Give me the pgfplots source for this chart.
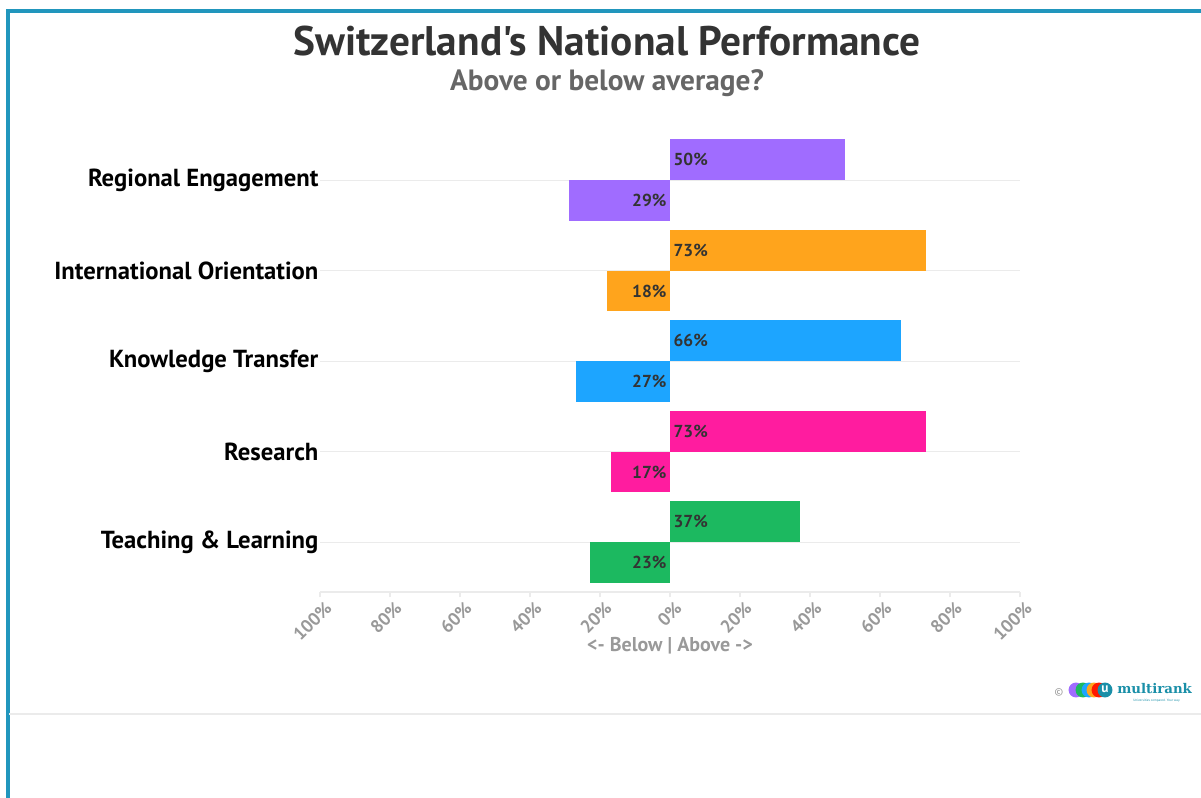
\documentclass[border=0pt]{standalone}
\usepackage{pgfplots}
\pgfplotsset{compat=1.18}
\usepackage{pgfplotstable}
\usepackage{fontspec}
\setmainfont{PT Sans}[Ligatures=TeXOff]
\newfontfamily\logofont{DejaVu Serif}
\definecolor{cpurple}{HTML}{A06CFF}
\definecolor{corange}{HTML}{FFA41C}
\definecolor{cblue}{HTML}{1DA5FF}
\definecolor{cpink}{HTML}{FF1C9F}
\definecolor{cgreen}{HTML}{1CB960}
\definecolor{frameblue}{HTML}{2196BD}
\definecolor{titlegray}{HTML}{333333}
\definecolor{subgray}{HTML}{666666}
\definecolor{tickgray}{HTML}{999999}
\definecolor{gridgray}{HTML}{EBEBEB}
\definecolor{logoteal}{HTML}{1A8FA8}

\pgfplotstableread{
y above below
4 50 29
3 73 18
2 66 27
1 73 17
0 37 23
}\data

\newcommand{\px}[2]{({(#1-320)*0.75pt},{(592-#2)*0.75pt})}

\begin{document}
\begin{tikzpicture}
\path[use as bounding box] \px{0}{798} rectangle \px{1201}{0};
% frame
\draw[frameblue, line width=2.4pt] \px{8}{800} -- \px{8}{11} -- \px{1203}{11};
\draw[gridgray, line width=1.6pt] \px{9}{714} -- \px{1203}{714};

\begin{axis}[
  at={(0,0)}, anchor=south west,
  scale only axis,
  width=525pt, height=342.8pt,
  xmin=-100, xmax=100,
  ymin=-0.55, ymax=4.5,
  /pgf/number format/assume math mode=true,
  separate axis lines,
  axis x line*=bottom, axis y line*=left,
  x axis line style={draw=gridgray, line width=0.8pt, -},
  y axis line style={draw=none},
  xtick={-100,-80,-60,-40,-20,0,20,40,60,80,100},
  xticklabels={100\%,80\%,60\%,40\%,20\%,0\%,20\%,40\%,60\%,80\%,100\%},
  xtick pos=bottom,
  tick align=outside,
  major tick length=4pt,
  x tick style={draw=gridgray, line width=0.8pt},
  x tick label style={font=\bfseries\fontsize{13.5}{15}\selectfont, text=tickgray, xshift=6.5pt, yshift=-5.5pt, rotate=45, anchor=east, inner sep=0pt},
  ytick={0,1,2,3,4},
  yticklabels={Teaching \& Learning, Research, Knowledge Transfer, International Orientation, Regional Engagement},
  y tick style={draw=none},
  y tick label style={font=\bfseries\fontsize{18.5}{20}\selectfont, text=black, anchor=east, inner sep=0pt, xshift=3pt},
  ymajorgrids,
  grid style={draw=gridgray, line width=0.8pt},
  xlabel={<- Below | Above ->},
  xlabel style={font=\bfseries\fontsize{15}{17}\selectfont, text=tickgray, at={(axis description cs:0.5,0)}, anchor=center, yshift=-40pt},
  clip=false,
]
% above bars
\addplot[xbar, fill=cpurple, draw=none, bar width=0.45, bar shift=0.225] coordinates {(50,4)};
\addplot[xbar, fill=corange, draw=none, bar width=0.45, bar shift=0.225] coordinates {(73,3)};
\addplot[xbar, fill=cblue,   draw=none, bar width=0.45, bar shift=0.225] coordinates {(66,2)};
\addplot[xbar, fill=cpink,   draw=none, bar width=0.45, bar shift=0.225] coordinates {(73,1)};
\addplot[xbar, fill=cgreen,  draw=none, bar width=0.45, bar shift=0.225] coordinates {(37,0)};
% below bars
\addplot[xbar, fill=cpurple, draw=none, bar width=0.45, bar shift=-0.225] coordinates {(-29,4)};
\addplot[xbar, fill=corange, draw=none, bar width=0.45, bar shift=-0.225] coordinates {(-18,3)};
\addplot[xbar, fill=cblue,   draw=none, bar width=0.45, bar shift=-0.225] coordinates {(-27,2)};
\addplot[xbar, fill=cpink,   draw=none, bar width=0.45, bar shift=-0.225] coordinates {(-17,1)};
\addplot[xbar, fill=cgreen,  draw=none, bar width=0.45, bar shift=-0.225] coordinates {(-23,0)};
% value labels
\addplot[draw=none, mark=none, point meta=explicit,
  nodes near coords={\pgfmathprintnumber{\pgfplotspointmeta}\%},
  every node near coord/.style={anchor=west, inner sep=0pt, xshift=2.5pt, font=\bfseries\fontsize{13}{14}\selectfont, text=titlegray}]
  table[x expr=0, y expr=\thisrow{y}+0.225, meta=above] {\data};
\addplot[draw=none, mark=none, point meta=explicit,
  nodes near coords={\pgfmathprintnumber{\pgfplotspointmeta}\%},
  every node near coord/.style={anchor=east, inner sep=0pt, xshift=-2.5pt, font=\bfseries\fontsize{13}{14}\selectfont, text=titlegray}]
  table[x expr=0, y expr=\thisrow{y}-0.225, meta=below] {\data};
\end{axis}

% titles
\node[anchor=base, text=titlegray, font=\bfseries\fontsize{31}{34}\selectfont, inner sep=0pt] at \px{607}{56} {Switzerland's National Performance};
\node[anchor=base, text=subgray, font=\bfseries\fontsize{22}{25}\selectfont, inner sep=0pt] at \px{607}{91} {Above or below average?};

% logo
\node[text=tickgray, font=\fontsize{8}{9}\selectfont, inner sep=0pt] at \px{1059}{692} {©};
\fill[cpurple] \px{1076}{690} circle (5.6pt);
\fill[cgreen] \px{1083}{690} circle (5.6pt);
\fill[cblue] \px{1089}{690} circle (5.6pt);
\fill[corange] \px{1094}{690} circle (5.6pt);
\fill[red!80!orange] \px{1099}{690} circle (5.6pt);
\fill[logoteal] \px{1105}{690} circle (5.6pt);
\node[text=white, font=\bfseries\fontsize{10}{10}\selectfont, inner sep=0pt] at \px{1105}{689} {u};
\node[anchor=base west, text=logoteal, font=\logofont\bfseries\fontsize{10}{11}\selectfont, inner sep=0pt] at \px{1117}{694} {multirank};
\node[anchor=base west, text=logoteal, font=\fontsize{2.5}{3}\selectfont, inner sep=0pt] at \px{1133}{701} {Universities compared. Your way.};
\end{tikzpicture}
\end{document}
